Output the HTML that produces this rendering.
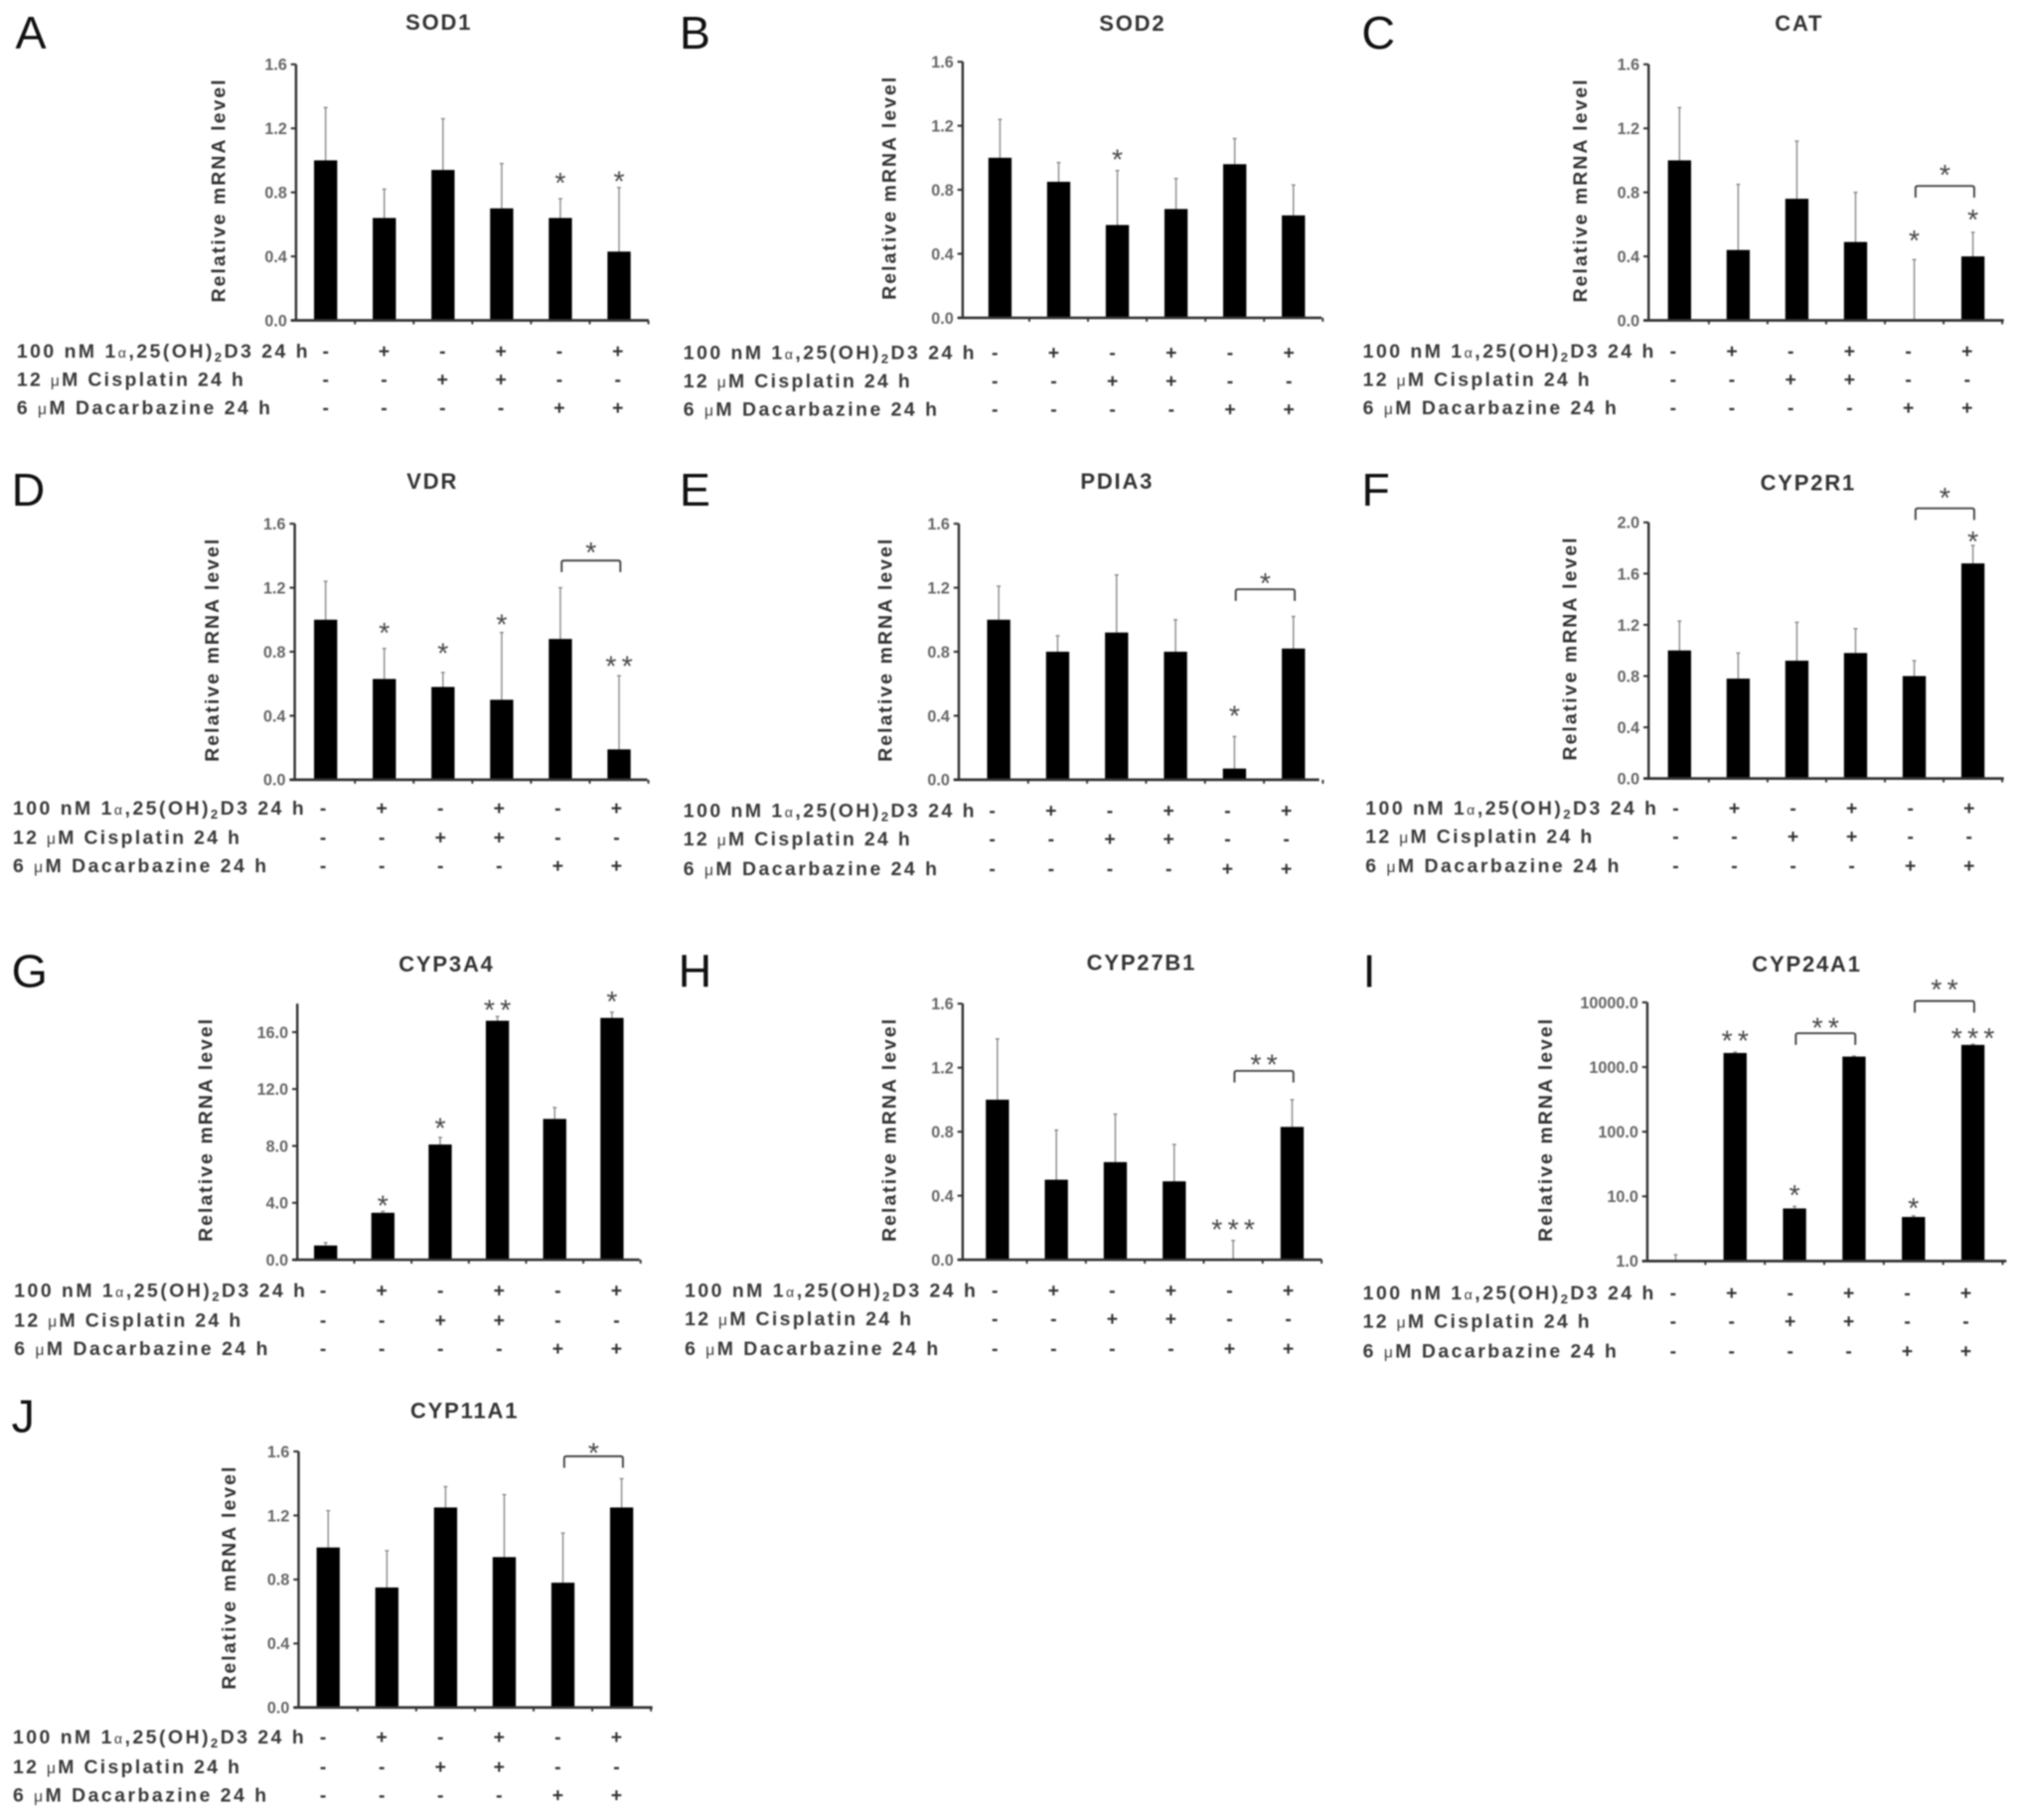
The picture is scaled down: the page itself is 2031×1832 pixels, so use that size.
<!DOCTYPE html>
<html lang="en">
<head>
<meta charset="utf-8">
<title>Relative mRNA levels by treatment</title>
<style>
html,body{margin:0;padding:0;background:#fff;width:2031px;height:1832px;overflow:hidden}
svg{display:block;filter:blur(.9px)}
text{font-family:"Liberation Sans",sans-serif}
</style>
</head>
<body>
<svg id="figure" xmlns="http://www.w3.org/2000/svg" width="2031" height="1832" viewBox="0 0 1568 1414.4"></svg>
<script>
const ticksLinear16 = [0, 0.4, 0.8, 1.2, 1.6];
const tickLabelsLinear16 = ['0.0', '0.4', '0.8', '1.2', '1.6'];
const ticksLinear20 = [0, 0.4, 0.8, 1.2, 1.6, 2.0];
const tickLabelsLinear20 = ['0.0', '0.4', '0.8', '1.2', '1.6', '2.0'];
const ticksG = [0, 4, 8, 12, 16];
const tickLabelsG = ['0.0', '4.0', '8.0', '12.0', '16.0'];
const ticksLog = [1, 10, 100, 1000, 10000];
const tickLabelsLog = ['1.0', '10.0', '100.0', '1000.0', '10000.0'];

const signsVitaminD = ['-', '+', '-', '+', '-', '+'];
const signsCisplatin = ['-', '-', '+', '+', '-', '-'];
const signsDacarbazine = ['-', '-', '-', '-', '+', '+'];

const valuesSOD1 = [1.0, 0.64, 0.94, 0.70, 0.64, 0.43];
const errorTopsSOD1 = [1.33, 0.82, 1.26, 0.98, 0.76, 0.83];
const starsSOD1 = [{bar: 4, mark: '*', level: 0.89}, {bar: 5, mark: '*', level: 0.90}];
const bracketsSOD1 = [];

const valuesSOD2 = [1.0, 0.85, 0.58, 0.68, 0.96, 0.64];
const errorTopsSOD2 = [1.24, 0.97, 0.92, 0.87, 1.12, 0.83];
const starsSOD2 = [{bar: 2, mark: '*', level: 1.02}];
const bracketsSOD2 = [];

const valuesCAT = [1.0, 0.44, 0.76, 0.49, 0, 0.40];
const errorTopsCAT = [1.33, 0.85, 1.12, 0.80, 0.38, 0.55];
const starsCAT = [{bar: 4, mark: '*', level: 0.53}, {bar: 5, mark: '*', level: 0.66}];
const bracketsCAT = [{from: 4, to: 5, level: 0.84, mark: '*', markLevel: 0.94}];

const valuesVDR = [1.0, 0.63, 0.58, 0.50, 0.88, 0.19];
const errorTopsVDR = [1.24, 0.82, 0.67, 0.92, 1.20, 0.65];
const starsVDR = [{bar: 1, mark: '*', level: 0.95}, {bar: 2, mark: '*', level: 0.82}, {bar: 3, mark: '*', level: 1.0}, {bar: 5, mark: '**', level: 0.74}];
const bracketsVDR = [{from: 4, to: 5, level: 1.37, mark: '*', markLevel: 1.45}];

const valuesPDIA3 = [1.0, 0.80, 0.92, 0.80, 0.07, 0.82];
const errorTopsPDIA3 = [1.21, 0.90, 1.28, 1.0, 0.27, 1.02];
const starsPDIA3 = [{bar: 4, mark: '*', level: 0.43}];
const bracketsPDIA3 = [{from: 4, to: 5, level: 1.19, mark: '*', markLevel: 1.26}];

const valuesCYP2R1 = [1.0, 0.78, 0.92, 0.98, 0.80, 1.68];
const errorTopsCYP2R1 = [1.23, 0.98, 1.22, 1.17, 0.92, 1.82];
const starsCYP2R1 = [{bar: 5, mark: '*', level: 1.89}];
const bracketsCYP2R1 = [{from: 4, to: 5, level: 2.11, mark: '*', markLevel: 2.23}];

const valuesCYP3A4 = [1.0, 3.3, 8.1, 16.8, 9.9, 17.0];
const errorTopsCYP3A4 = [1.2, 3.4, 8.6, 17.1, 10.7, 17.4];
const starsCYP3A4 = [{bar: 1, mark: '*', level: 4.15}, {bar: 2, mark: '*', level: 9.6}, {bar: 3, mark: '**', level: 17.9}, {bar: 5, mark: '*', level: 18.5}];
const bracketsCYP3A4 = [];

const valuesCYP27B1 = [1.0, 0.50, 0.61, 0.49, 0, 0.83];
const errorTopsCYP27B1 = [1.38, 0.81, 0.91, 0.72, 0.12, 1.0];
const starsCYP27B1 = [{bar: 4, mark: '***', level: 0.22}];
const bracketsCYP27B1 = [{from: 4, to: 5, level: 1.18, mark: '**', markLevel: 1.25}];

const valuesCYP24A1 = [1, 1650, 6.5, 1450, 4.8, 2200];
const errorTopsCYP24A1 = [1.25, 1700, 7, 1480, 5, 2250];
const starsCYP24A1 = [{bar: 1, mark: '**', level: 3030}, {bar: 2, mark: '*', level: 12.4}, {bar: 4, mark: '*', level: 7.9}, {bar: 5, mark: '***', level: 3330}];
const bracketsCYP24A1 = [{from: 2, to: 3, level: 3330, mark: '**', markLevel: 4790}, {from: 4, to: 5, level: 10500, mark: '**', markLevel: 19000}];

const valuesCYP11A1 = [1.0, 0.75, 1.25, 0.94, 0.78, 1.25];
const errorTopsCYP11A1 = [1.23, 0.98, 1.38, 1.33, 1.09, 1.43];
const starsCYP11A1 = [];
const bracketsCYP11A1 = [{from: 4, to: 5, level: 1.57, mark: '*', markLevel: 1.62}];

const panels = [
  {letter:'A',lx:12,ly:38,title:'SOD1',tx:341,ty:23,ax:230,y0:249,yt:50,right:504,bar0:253,step:45.6,yTitleX:170,scale:'linear',max:1.6,ticks:ticksLinear16,tickLabels:tickLabelsLinear16,values:valuesSOD1,errorTops:errorTopsSOD1,stars:starsSOD1,brackets:bracketsSOD1,labelX:13,rows:[273,295,317],sign0:253,signStep:45.4},
  {letter:'B',lx:528,ly:38,title:'SOD2',tx:880,ty:24,ax:748,y0:247,yt:48,right:1027,bar0:777,step:45.6,yTitleX:691,scale:'linear',max:1.6,ticks:ticksLinear16,tickLabels:tickLabelsLinear16,values:valuesSOD2,errorTops:errorTopsSOD2,stars:starsSOD2,brackets:bracketsSOD2,labelX:531,rows:[274,296,318],sign0:773,signStep:45.7},
  {letter:'C',lx:1058,ly:38,title:'CAT',tx:1398,ty:24,ax:1281,y0:249,yt:50,right:1557,bar0:1305,step:45.6,yTitleX:1228,scale:'linear',max:1.6,ticks:ticksLinear16,tickLabels:tickLabelsLinear16,values:valuesCAT,errorTops:errorTopsCAT,stars:starsCAT,brackets:bracketsCAT,labelX:1059,rows:[273,295,317],sign0:1300,signStep:45.7},
  {letter:'D',lx:9,ly:393,title:'VDR',tx:336,ty:380,ax:229,y0:606,yt:407,right:503,bar0:253,step:45.6,yTitleX:165,scale:'linear',max:1.6,ticks:ticksLinear16,tickLabels:tickLabelsLinear16,values:valuesVDR,errorTops:errorTopsVDR,stars:starsVDR,brackets:bracketsVDR,labelX:10,rows:[628,651,673],sign0:251,signStep:45.6},
  {letter:'E',lx:528,ly:393,title:'PDIA3',tx:868,ty:380,ax:745,y0:606,yt:407,right:1025,bar0:776,step:45.8,yTitleX:688,scale:'linear',max:1.6,ticks:ticksLinear16,tickLabels:tickLabelsLinear16,values:valuesPDIA3,errorTops:errorTopsPDIA3,stars:starsPDIA3,brackets:bracketsPDIA3,labelX:531,rows:[630,652,675],sign0:771,signStep:45.7},
  {letter:'F',lx:1058,ly:393,title:'CYP2R1',tx:1405,ty:381,ax:1281,y0:605,yt:406,right:1557,bar0:1305,step:45.6,yTitleX:1220,scale:'linear',max:2.0,ticks:ticksLinear20,tickLabels:tickLabelsLinear20,values:valuesCYP2R1,errorTops:errorTopsCYP2R1,stars:starsCYP2R1,brackets:bracketsCYP2R1,labelX:1061,rows:[628,650,673],sign0:1302,signStep:45.6},
  {letter:'G',lx:9,ly:767,title:'CYP3A4',tx:347,ty:755,ax:231,y0:979,yt:780,right:497,bar0:253,step:44.5,yTitleX:160,scale:'linear',max:18,ticks:ticksG,tickLabels:tickLabelsG,values:valuesCYP3A4,errorTops:errorTopsCYP3A4,stars:starsCYP3A4,brackets:bracketsCYP3A4,labelX:11,rows:[1003,1026,1048],sign0:251,signStep:45.6},
  {letter:'H',lx:527,ly:767,title:'CYP27B1',tx:887,ty:754,ax:748,y0:979,yt:780,right:1027,bar0:775,step:45.8,yTitleX:691,scale:'linear',max:1.6,ticks:ticksLinear16,tickLabels:tickLabelsLinear16,values:valuesCYP27B1,errorTops:errorTopsCYP27B1,stars:starsCYP27B1,brackets:bracketsCYP27B1,labelX:532,rows:[1003,1025,1048],sign0:773,signStep:45.6},
  {letter:'I',lx:1059,ly:767,title:'CYP24A1',tx:1404,ty:755,ax:1280,y0:980,yt:779,right:1559,bar0:1302,step:46.2,yTitleX:1201,scale:'log',max:10000,ticks:ticksLog,tickLabels:tickLabelsLog,values:valuesCYP24A1,errorTops:errorTopsCYP24A1,stars:starsCYP24A1,brackets:bracketsCYP24A1,labelX:1059,rows:[1005,1027,1050],sign0:1300,signStep:45.5},
  {letter:'J',lx:9,ly:1113,title:'CYP11A1',tx:361,ty:1102,ax:232,y0:1327,yt:1128,right:507,bar0:255,step:45.6,yTitleX:178,scale:'linear',max:1.6,ticks:ticksLinear16,tickLabels:tickLabelsLinear16,values:valuesCYP11A1,errorTops:errorTopsCYP11A1,stars:starsCYP11A1,brackets:bracketsCYP11A1,labelX:10,rows:[1350,1373,1395],sign0:251,signStep:45.6}
];

const NS = 'http://www.w3.org/2000/svg';
const figure = document.getElementById('figure');
const INK = '#333';
const GREY = '#8a8a8a';

function make(tag, attrs, parent, content) {
  const node = document.createElementNS(NS, tag);
  for (const key in attrs) node.setAttribute(key, attrs[key]);
  if (content !== undefined) node.textContent = content;
  parent.appendChild(node);
  return node;
}

function yScale(p, v) {
  if (p.scale === 'log') {
    const frac = Math.log10(Math.max(v, 1)) / Math.log10(p.max);
    return p.y0 - frac * (p.y0 - p.yt);
  }
  return p.y0 - (v / p.max) * (p.y0 - p.yt);
}
function xBand(p, i) {
  return p.bar0 + i * p.step;
}

function drawRowLabel(group, p, rowIndex) {
  const y = p.rows[rowIndex] + 5;
  const widths = [226, 176, 197];
  const t = make('text', {x: p.labelX, y: y, 'font-size': 15, 'font-weight': 700, fill: '#3a3a3a', textLength: widths[rowIndex], lengthAdjust: 'spacing'}, group);
  if (rowIndex === 0) {
    
    
    make('tspan', {}, t, '100 nM 1');
    make('tspan', {'font-size': 11, 'font-weight': 400}, t, 'α');
    make('tspan', {}, t, ',25(OH)');
    make('tspan', {'font-size': 10, dy: 3}, t, '2');
    make('tspan', {dy: -3}, t, 'D3 24  h');
  } else if (rowIndex === 1) {
    
    
    make('tspan', {}, t, '12 ');
    make('tspan', {'font-size': 12, 'font-weight': 400}, t, 'μ');
    make('tspan', {}, t, 'M Cisplatin 24  h');
  } else {
    
    
    make('tspan', {}, t, '6 ');
    make('tspan', {'font-size': 12, 'font-weight': 400}, t, 'μ');
    make('tspan', {}, t, 'M Dacarbazine 24  h');
  }
}

function drawMark(group, x, y, mark) {
  const shift = mark.length > 1 ? 2 : 0;
  const t = make('text', {x: x + shift, y: y + 11.5, 'font-size': 22, 'text-anchor': 'middle', fill: '#4a4a4a', 'letter-spacing': mark.length > 1 ? 4 : 0}, group, mark);
  
  
}

panels.forEach(function (p) {
  const group = make('g', {}, figure);
  
  

  const letter = make('text', {x: p.lx, y: p.ly, 'font-size': 36, fill: '#111'}, group, p.letter);
  
  

  const title = make('text', {x: p.tx, y: p.ty, 'font-size': 17, 'font-weight': 700, 'text-anchor': 'middle', fill: '#333', 'letter-spacing': 1.4}, group, p.title);
  
  

  const midY = (p.y0 + p.yt) / 2 - 1;
  const yTitle = make('text', {x: p.yTitleX, y: midY, 'font-size': 15, 'font-weight': 700, 'text-anchor': 'middle', fill: '#333', textLength: 173, lengthAdjust: 'spacing', transform: 'rotate(-90 ' + p.yTitleX + ' ' + midY + ')', dy: 5}, group, 'Relative mRNA level');
  
  

  p.values.forEach(function (v, i) {
    const cx = xBand(p, i);
    const top = yScale(p, p.errorTops[i]);
    const yv = yScale(p, v);
    const err = make('line', {x1: cx, x2: cx, y1: top, y2: yv, stroke: GREY, 'stroke-width': 1.1}, group);
    
    
    const cap = make('line', {x1: cx - 1.5, x2: cx + 1.5, y1: top, y2: top, stroke: GREY, 'stroke-width': 1.1}, group);
    
    
    const bar = make('rect', {x: cx - 9, y: yv, width: 18, height: Math.max(p.y0 - yv, 0), fill: '#000'}, group);
    
    
  });

  const yAxis = make('line', {x1: p.ax, x2: p.ax, y1: p.yt, y2: p.y0, stroke: INK, 'stroke-width': 1.9}, group);
  
  
  const xAxis = make('line', {x1: p.ax - 4, x2: p.right, y1: p.y0, y2: p.y0, stroke: INK, 'stroke-width': 2.1}, group);
  
  

  p.ticks.forEach(function (v, i) {
    const y = yScale(p, v);
    const tick = make('line', {x1: p.ax - 4, x2: p.ax, y1: y, y2: y, stroke: INK, 'stroke-width': 1.6}, group);
    
    
    const label = make('text', {x: p.ax - 7, y: y + 4.5, 'font-size': 12.5, 'font-weight': 700, 'text-anchor': 'end', fill: '#666'}, group, p.tickLabels[i]);
    
    
  });

  for (let i = 0; i <= p.values.length - 1; i++) {
    const x = xBand(p, i) + p.step / 2;
    const tick = make('line', {x1: x, x2: x, y1: p.y0, y2: p.y0 + 3, stroke: INK, 'stroke-width': 1.5}, group);
    
    
  }

  p.stars.forEach(function (s) {
    drawMark(group, xBand(p, s.bar), yScale(p, s.level), s.mark);
  });

  p.brackets.forEach(function (b) {
    const x1 = xBand(p, b.from) + 1;
    const x2 = xBand(p, b.to) + 1;
    const y = yScale(p, b.level);
    const d = 'M' + x1 + ' ' + (y + 9) + 'V' + (y + 1.5) + 'Q' + x1 + ' ' + y + ' ' + (x1 + 2) + ' ' + y + 'H' + (x2 - 2) + 'Q' + x2 + ' ' + y + ' ' + x2 + ' ' + (y + 1.5) + 'V' + (y + 9);
    const bracket = make('path', {d: d, fill: 'none', stroke: '#444', 'stroke-width': 1.5}, group);
    
    
    drawMark(group, (x1 + x2) / 2, yScale(p, b.markLevel), b.mark);
  });

  [0, 1, 2].forEach(function (r) {
    drawRowLabel(group, p, r);
  });

  [signsVitaminD, signsCisplatin, signsDacarbazine].forEach(function (signs, r) {
    signs.forEach(function (sign, i) {
      const s = make('text', {x: p.sign0 + i * p.signStep, y: p.rows[r] + 5, 'font-size': 15, 'font-weight': 700, 'text-anchor': 'middle', fill: '#333'}, group, sign);
      
      
    });
  });
});
</script>
</body>
</html>
